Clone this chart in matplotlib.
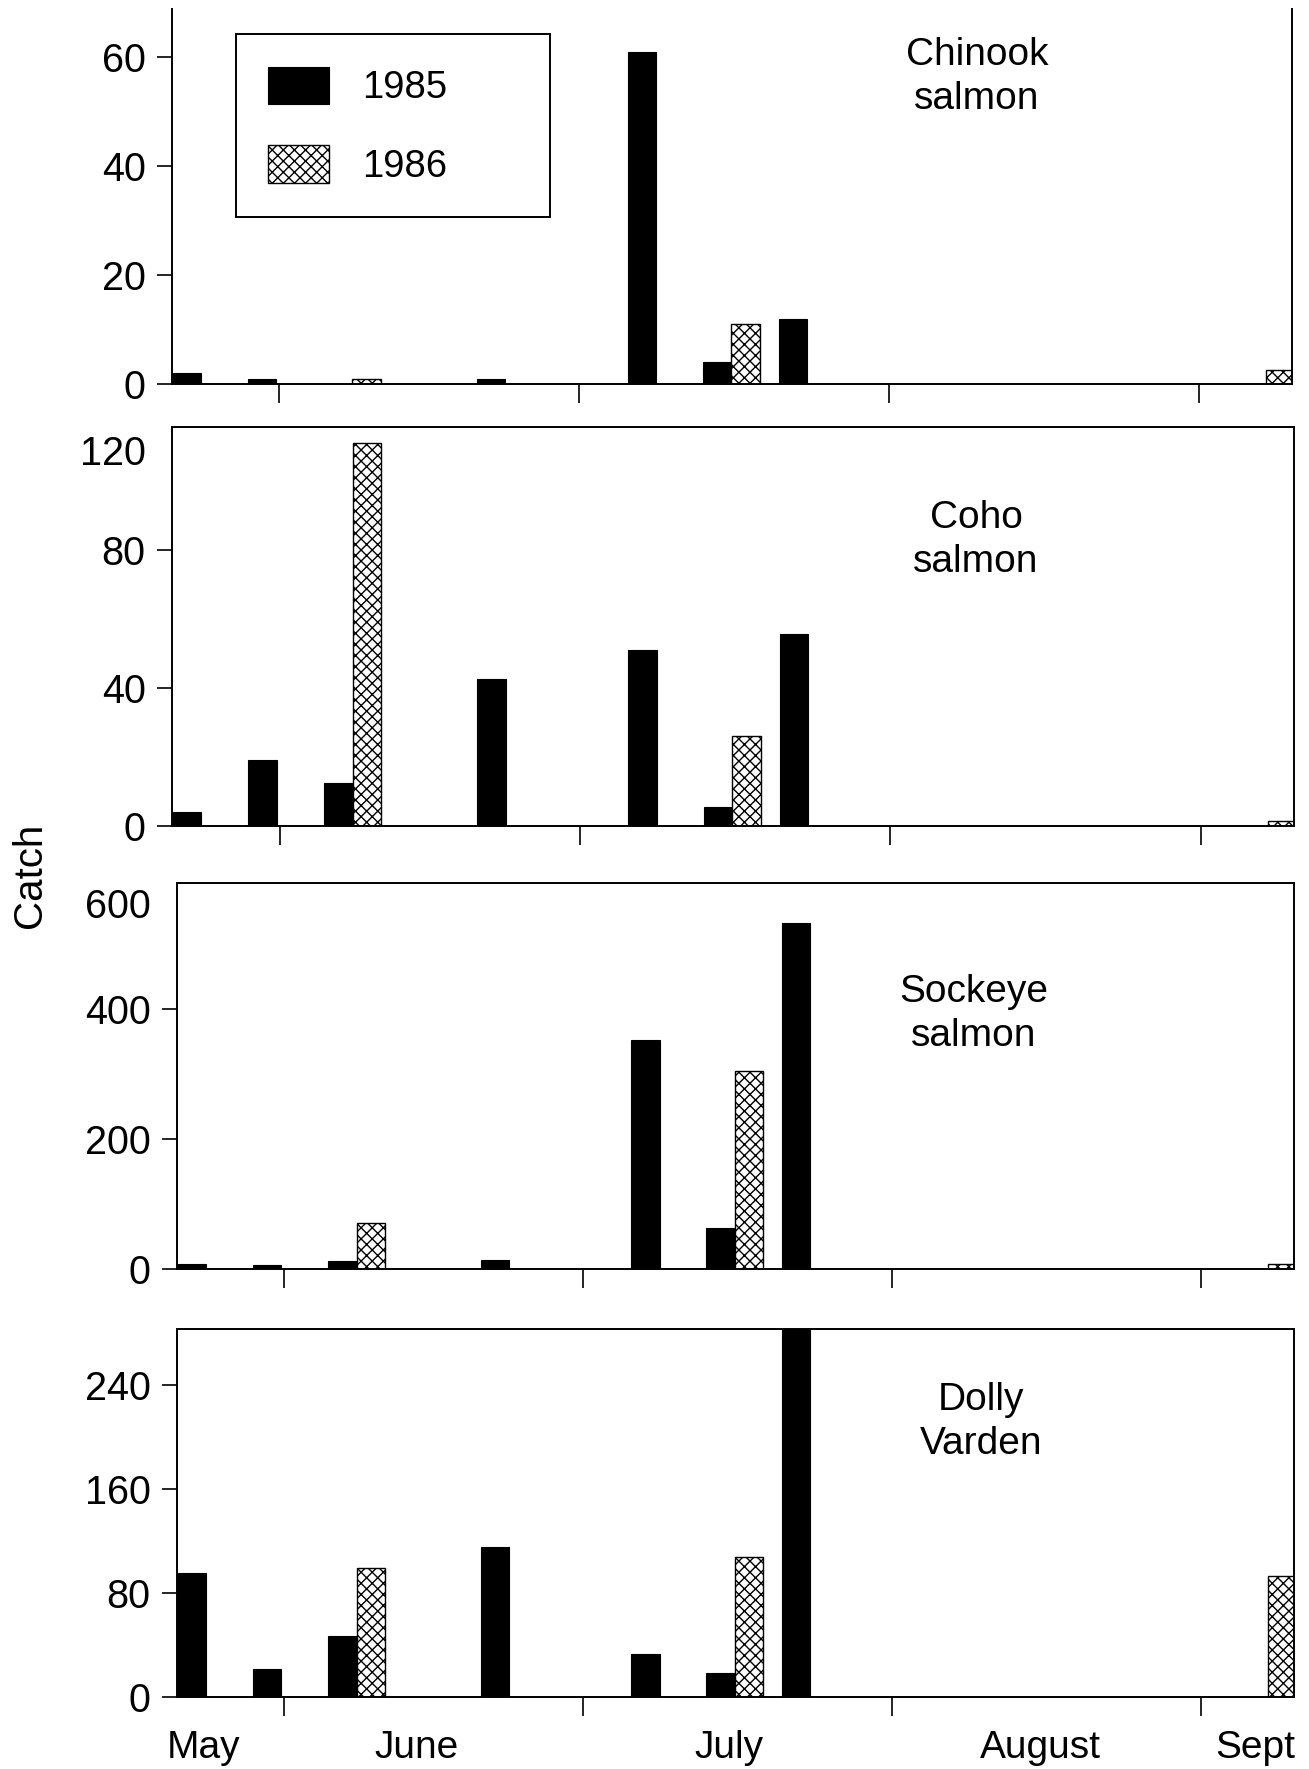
import matplotlib
matplotlib.use("Agg")
import matplotlib.pyplot as plt
import numpy as np

plt.rcParams['font.family'] = ['Liberation Sans', 'DejaVu Sans']
plt.rcParams['hatch.linewidth'] = 1.0

# ---- data (x = days after 1 June) ----
sample_day = [-7.8, -0.3, 7.3, 22.6, 37.7, 45.2, 52.8, 98.7]
years = ['1985', '1986']

chinook_1985 = [2, 1, 0, 1, 61, 4, 12, 0]
chinook_1986 = [0, 0, 1, 0, 0, 11, 0, 2.5]
coho_1985 = [4, 19, 12.4, 42.6, 51, 5.6, 55.7, 0]
coho_1986 = [0, 0, 111, 0, 0, 26, 0, 1.5]
sockeye_1985 = [7, 6, 13, 14, 352, 63, 532, 0]
sockeye_1986 = [0, 0, 71, 0, 0, 305, 0, 8]
dolly_1985 = [95, 21.5, 47, 115, 33, 18.5, 290, 0]
dolly_1986 = [0, 0, 99, 0, 0, 108, 0, 93]

species = ['Chinook\nsalmon', 'Coho\nsalmon', 'Sockeye\nsalmon', 'Dolly\nVarden']
month_starts = [0, 30, 61, 92]
month_labels = ['May', 'June', 'July', 'August', 'Sept']
month_label_pos = [-8.1, 13.3, 44.6, 75.9, 97.4]

yticks = [[0, 20, 40, 60], [0, 40, 80, 109], [0, 200, 400, 563], [0, 80, 160, 240]]
ytick_labels = [['0', '20', '40', '60'], ['0', '40', '80', '120'],
                ['0', '200', '400', '600'], ['0', '80', '160', '240']]
ylims = [68.8, 115.7, 594, 283]

series = [(chinook_1985, chinook_1986), (coho_1985, coho_1986),
          (sockeye_1985, sockeye_1986), (dolly_1985, dolly_1986)]

# ---- layout (pixels) ----
W, H = 1309, 1769
boxes = [(172, 1292, 9, 384), (172, 1294, 427, 826),
         (177, 1294, 883, 1269), (177, 1294, 1329, 1697)]
label_xy = [(977, 77), (976, 540), (974, 1014), (981, 1422)]

fig = plt.figure(figsize=(W / 100, H / 100), dpi=100)
xmin, xmax = -10.74, 101.3
bw = 2.86
x = np.array(sample_day)

for i, ((l, r, t, b), (s85, s86)) in enumerate(zip(boxes, series)):
    ax = fig.add_axes([l / W, 1 - b / H, (r - l) / W, (b - t) / H])
    ax.bar(x - bw / 2, s85, width=bw, color='black', edgecolor='black',
           linewidth=0.8, label=years[0])
    ax.bar(x + bw / 2, s86, width=bw, color='white', edgecolor='black',
           linewidth=1.0, hatch='xxx', label=years[1])
    ax.set_xlim(xmin, xmax)
    ax.set_ylim(0, ylims[i])
    ax.set_yticks(yticks[i], ytick_labels[i])
    ax.set_xticks(month_starts)
    ax.set_xticklabels([])
    ax.tick_params(axis='y', direction='out', length=11, width=1.2,
                   labelsize=28.5, pad=8)
    ax.tick_params(axis='x', direction='out', length=14, width=1.2)
    if i in (1, 2):
        ax.yaxis.get_major_ticks()[-1].tick1line.set_visible(False)
    for sp in ax.spines.values():
        sp.set_linewidth(1.4)
    if i == 0:
        ax.spines['top'].set_visible(False)
        ax.legend(loc='upper left', bbox_to_anchor=(0.057, 0.456, 0.2805, 0.477),
                  mode='expand', borderaxespad=0, fontsize=27.5,
                  handlelength=1.6, handleheight=1.15,
                  handletextpad=0.85, labelspacing=1.0, borderpad=0.85,
                  frameon=True, fancybox=False, edgecolor='black', framealpha=1)
        ax.get_legend().get_frame().set_linewidth(1.4)
    if i == 3:
        ax.set_xticks(month_label_pos, month_labels, minor=True)
        ax.tick_params(axis='x', which='minor', length=0, labelsize=28, pad=24)
    lx, ly = label_xy[i]
    fig.text(lx / W, 1 - ly / H, species[i], ha='center', va='center',
             fontsize=28, linespacing=1.32)

fig.text(30 / W, 1 - 875 / H, 'Catch', rotation=90, ha='center', va='center',
         fontsize=29)

fig.savefig('out.png', dpi=100, facecolor='white')
